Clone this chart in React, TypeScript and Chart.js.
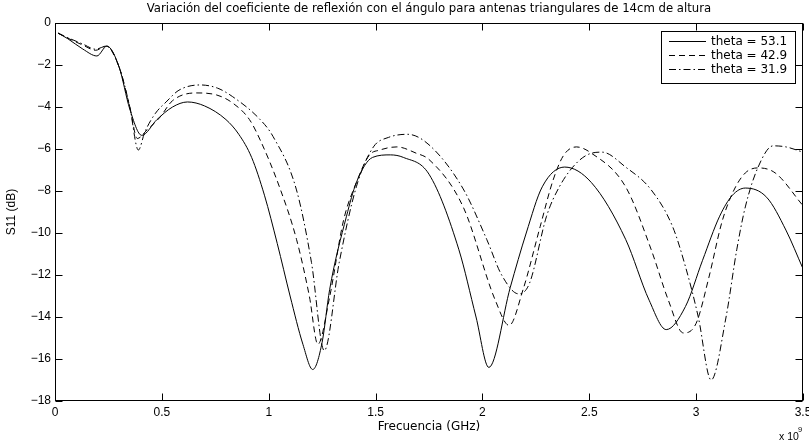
import React, { useEffect, useRef } from "react";
import { Chart, registerables } from "chart.js";

Chart.register(...registerables);

// S11 sweep for three apex angles (frequency in GHz, reflection in dB)
const freq531 = [0.014, 0.06, 0.13, 0.196, 0.243, 0.30, 0.35, 0.406, 0.477, 0.55, 0.62, 0.70, 0.80, 0.86, 0.92, 0.98, 1.04, 1.10, 1.16, 1.206, 1.25, 1.285, 1.364, 1.41, 1.486, 1.57, 1.63, 1.75, 1.89, 1.97, 2.03, 2.13, 2.205, 2.28, 2.385, 2.51, 2.67, 2.78, 2.86, 2.95, 3.03, 3.11, 3.17, 3.23, 3.33, 3.42, 3.5];
const s11531 = [-0.48, -0.75, -1.24, -1.57, -1.1, -2.1, -4.1, -5.35, -4.6, -4.0, -3.76, -3.95, -4.6, -5.3, -6.4, -8.2, -10.5, -13.0, -15.3, -16.5, -15.2, -12.7, -9.2, -7.6, -6.4, -6.28, -6.4, -7.2, -10.8, -14.0, -16.4, -12.6, -10.0, -7.8, -6.86, -7.6, -10.3, -13.2, -14.6, -13.5, -11.3, -9.2, -8.2, -7.86, -8.3, -9.86, -11.7];

const freq429 = [0.014, 0.06, 0.13, 0.19, 0.24, 0.30, 0.35, 0.385, 0.43, 0.49, 0.55, 0.66, 0.757, 0.83, 0.91, 0.96, 1.05, 1.13, 1.19, 1.23, 1.285, 1.35, 1.41, 1.47, 1.52, 1.60, 1.69, 1.75, 1.91, 2.06, 2.125, 2.19, 2.27, 2.33, 2.38, 2.44, 2.51, 2.67, 2.79, 2.87, 2.94, 3.0, 3.06, 3.12, 3.17, 3.23, 3.29, 3.37, 3.5];
const s11429 = [-0.48, -0.72, -1.05, -1.3, -1.1, -2.1, -4.0, -5.5, -5.1, -4.5, -3.7, -3.33, -3.43, -3.8, -4.6, -5.57, -7.8, -10.3, -13.0, -15.3, -13.05, -9.4, -7.6, -6.3, -6.05, -5.9, -6.2, -6.5, -8.76, -13.2, -14.4, -12.7, -9.7, -7.5, -6.3, -5.9, -6.2, -7.8, -10.8, -13.2, -14.76, -14.3, -12.1, -9.5, -8.1, -7.14, -6.9, -7.14, -8.7];

const freq319 = [0.014, 0.06, 0.13, 0.19, 0.24, 0.30, 0.35, 0.39, 0.42, 0.47, 0.52, 0.58, 0.68, 0.76, 0.83, 0.96, 1.02, 1.13, 1.2, 1.26, 1.33, 1.41, 1.49, 1.56, 1.65, 1.75, 1.91, 2.02, 2.09, 2.17, 2.22, 2.3, 2.36, 2.44, 2.51, 2.56, 2.67, 2.79, 2.89, 2.95, 3.01, 3.07, 3.14, 3.19, 3.23, 3.29, 3.36, 3.42, 3.5];
const s11319 = [-0.48, -0.7, -1.0, -1.25, -1.1, -2.1, -4.0, -6.05, -5.2, -4.3, -3.76, -3.2, -2.95, -3.1, -3.5, -4.6, -5.4, -7.95, -11.4, -15.6, -11.4, -7.8, -5.9, -5.45, -5.3, -5.8, -7.9, -10.3, -12.0, -12.9, -12.4, -9.2, -7.8, -6.67, -6.2, -6.15, -6.86, -7.95, -9.7, -11.6, -14.0, -17.0, -14.0, -10.8, -8.76, -6.86, -5.85, -5.9, -6.15];

const seriesLabels = ["theta = 53.1", "theta = 42.9", "theta = 31.9"];
const xTicks = [0, 0.5, 1, 1.5, 2, 2.5, 3, 3.5];
const yTicks = [0, -2, -4, -6, -8, -10, -12, -14, -16, -18];

const titleText = "Variación del coeficiente de reflexión con el ángulo para antenas triangulares de 14cm de altura";
const xTitle = "Frecuencia (GHz)";
const yTitle = "S11 (dB)";

const FONT = "'Liberation Sans', Arial, Helvetica, sans-serif";
const WIDE = "'DejaVu Sans', sans-serif";
const dashes: number[][] = [[], [6, 4], [7, 3, 1.5, 3]];

const toPoints = (xs: number[], ys: number[]) => xs.map((x, i) => ({ x, y: ys[i] }));

// Box, inward ticks, titles and legend drawn in the MATLAB figure style
const figurePlugin = {
  id: "figureDecor",
  afterDraw(chart: any) {
    const { ctx, chartArea: a, scales } = chart;
    const xs = scales.x;
    const ys = scales.y;
    ctx.save();
    ctx.strokeStyle = "#000";
    ctx.lineWidth = 1;
    ctx.setLineDash([]);
    const L = Math.round(a.left) + 0.5;
    const R = Math.round(a.right) - 0.5;
    const T = Math.round(a.top) + 0.5;
    const B = Math.round(a.bottom) - 0.5;
    ctx.strokeRect(L, T, R - L, B - T);
    const tl = 7;
    ctx.beginPath();
    xTicks.forEach((v) => {
      const px = Math.round(xs.getPixelForValue(v)) + 0.5;
      ctx.moveTo(px, B);
      ctx.lineTo(px, B - tl);
      ctx.moveTo(px, T);
      ctx.lineTo(px, T + tl);
    });
    yTicks.forEach((v) => {
      const py = Math.round(ys.getPixelForValue(v)) + 0.5;
      ctx.moveTo(L, py);
      ctx.lineTo(L + tl, py);
      ctx.moveTo(R, py);
      ctx.lineTo(R - tl, py);
    });
    ctx.stroke();

    ctx.fillStyle = "#000";
    const cx = (a.left + a.right) / 2;
    ctx.textAlign = "center";
    ctx.textBaseline = "middle";
    ctx.font = `11.7px ${WIDE}`;
    ctx.fillText(titleText, cx, 9);
    ctx.font = `12px ${WIDE}`;
    ctx.fillText(xTitle, cx, 427);
    ctx.save();
    ctx.translate(12, (a.top + a.bottom) / 2);
    ctx.rotate(-Math.PI / 2);
    ctx.font = `12px ${FONT}`;
    ctx.fillText(yTitle, 0, 0);
    ctx.restore();

    // exponent marker for the frequency axis
    ctx.textAlign = "left";
    ctx.font = `10.5px ${FONT}`;
    ctx.fillText("x 10", 779, 437);
    ctx.font = `7.5px ${FONT}`;
    ctx.fillText("9", 798, 430);

    // legend
    const bx = 661.5, by = 31.5, bw = 134, bh = 52;
    ctx.fillStyle = "#fff";
    ctx.fillRect(bx, by, bw, bh);
    ctx.strokeRect(bx, by, bw, bh);
    ctx.font = `12px ${WIDE}`;
    ctx.fillStyle = "#000";
    ctx.textBaseline = "middle";
    seriesLabels.forEach((lab, i) => {
      const yy = 41.5 + i * 14;
      ctx.setLineDash(dashes[i]);
      ctx.beginPath();
      ctx.moveTo(669, yy);
      ctx.lineTo(706, yy);
      ctx.stroke();
      ctx.setLineDash([]);
      ctx.fillText(lab, 711, yy);
    });
    ctx.restore();
  },
};

export default function App() {
  const ref = useRef<HTMLCanvasElement | null>(null);

  useEffect(() => {
    if (!ref.current) return;
    const sets = [
      toPoints(freq531, s11531),
      toPoints(freq429, s11429),
      toPoints(freq319, s11319),
    ];
    const chart = new Chart(ref.current, {
      type: "line",
      data: {
        datasets: sets.map((d, i) => ({
          label: seriesLabels[i],
          data: d,
          borderColor: "#000",
          borderWidth: 1,
          borderDash: dashes[i],
          pointRadius: 0,
          fill: false,
          cubicInterpolationMode: "monotone" as const,
        })),
      },
      options: {
        responsive: false,
        animation: false,
        events: [],
        layout: { padding: { top: 23, right: 6, left: 0, bottom: 0 } },
        plugins: {
          legend: { display: false },
          title: { display: false },
          tooltip: { enabled: false },
        },
        scales: {
          x: {
            type: "linear",
            min: 0,
            max: 3.5,
            grid: { display: false, drawTicks: false },
            border: { display: false },
            afterBuildTicks: (s: any) => {
              s.ticks = xTicks.map((v) => ({ value: v }));
            },
            ticks: {
              color: "#000",
              font: { family: FONT, size: 12 },
              padding: 4,
              maxRotation: 0,
              autoSkip: false,
              callback: (v: any) => String(v),
            },
            afterFit: (s: any) => {
              s.height = 46;
              s.paddingLeft = 0;
              s.paddingRight = 0;
            },
          },
          y: {
            type: "linear",
            min: -18,
            max: 0,
            grid: { display: false, drawTicks: false },
            border: { display: false },
            afterBuildTicks: (s: any) => {
              s.ticks = yTicks.map((v) => ({ value: v }));
            },
            ticks: {
              color: "#000",
              font: { family: FONT, size: 12 },
              padding: 4,
              autoSkip: false,
              callback: (v: any) => (Number(v) < 0 ? "\u2212" + Math.abs(Number(v)) : String(v)),
            },
            afterFit: (s: any) => {
              s.width = 55;
              s.paddingTop = 0;
              s.paddingBottom = 0;
            },
          },
        },
      },
      plugins: [figurePlugin],
    });
    return () => chart.destroy();
  }, []);

  return (
    <div style={{ position: "fixed", left: 0, top: 0, width: 809, height: 447, background: "#fff" }}>
      <canvas ref={ref} width={809} height={447} style={{ display: "block" }} />
    </div>
  );
}
